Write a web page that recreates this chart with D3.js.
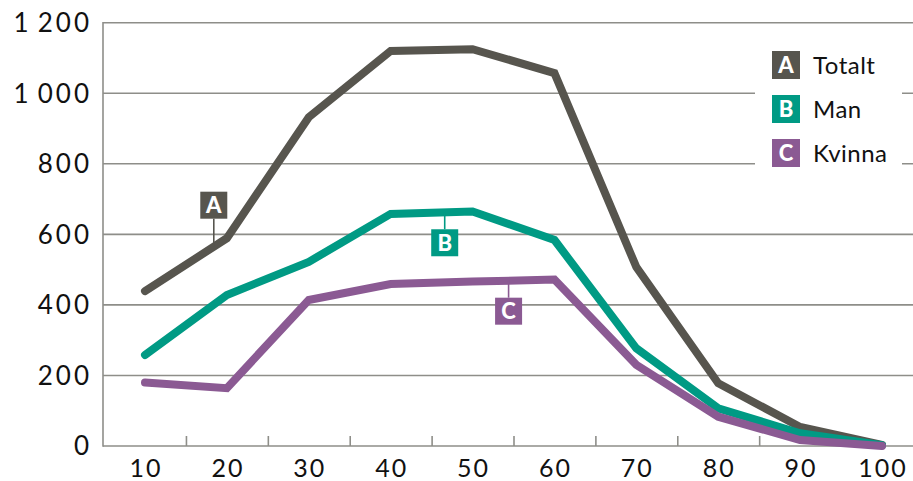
<!DOCTYPE html>
<html>
<head>
<meta charset="utf-8">
<script src="https://cdn.jsdelivr.net/npm/d3@7/dist/d3.min.js"></script>
<style>
  html, body { margin: 0; padding: 0; background: #fff; }
  svg { display: block; }
  text { font-family: Lato, "Open Sans", sans-serif; fill: #111; }
</style>
</head>
<body>
<svg id="chart" width="913" height="481"></svg>
<script>
// Age groups along the x axis
const ages = [10, 20, 30, 40, 50, 60, 70, 80, 90, 100];

// Series values per age group
const totalt = [439, 589, 932, 1120, 1125, 1057, 507, 178, 54, 3];
const man    = [258, 428, 522, 658, 665, 584, 277, 107, 36, 2];
const kvinna = [180, 164, 414, 459, 466, 472, 230, 83, 17, 0];

// Y axis ticks and their printed labels
const yTicks = [0, 200, 400, 600, 800, 1000, 1200];
const yTickLabels = ["0", "200", "400", "600", "800", "1\u2009000", "1\u2009200"];

// Series names, legend letters and colours
const seriesNames = ["Totalt", "Man", "Kvinna"];
const seriesLetters = ["A", "B", "C"];
const seriesColors = ["#57554e", "#009a84", "#8b5a93"];

// Where each inline letter tag sits (x in age units) and whether it is above or below its line
const tagAge = [18.4, 46.6, 54.4];
const tagSide = ["above", "below", "below"];

(function draw() {
  const svg = d3.select("#chart");
  const W = 913;
  const plotLeft = 103, plotTop = 22.7, plotBottom = 446;

  const x = d3.scaleLinear().domain([10, 100]).range([145, 882]);
  const y = d3.scaleLinear().domain([0, 1200]).range([plotBottom, plotTop]);

  const gridColor = "#8e8e89";
  const tickSpacing = 3;

  // Horizontal gridlines
  svg.append("g")
    .selectAll("line")
    .data(yTicks.filter(d => d > 0))
    .join("line")
    .attr("x1", plotLeft).attr("x2", W)
    .attr("y1", d => y(d)).attr("y2", d => y(d))
    .attr("stroke", gridColor).attr("stroke-width", 1.6);

  // Y axis labels
  svg.append("g")
    .selectAll("text")
    .data(yTicks)
    .join("text")
    .attr("x", 89 + tickSpacing)
    .attr("y", d => y(d))
    .attr("dy", "0.36em")
    .attr("text-anchor", "end")
    .attr("font-size", 26)
    .attr("letter-spacing", tickSpacing)
    .text((d, i) => yTickLabels[i]);

  // Left axis line
  svg.append("line")
    .attr("x1", plotLeft).attr("x2", plotLeft)
    .attr("y1", plotTop - 0.8).attr("y2", plotBottom + 0.8)
    .attr("stroke", gridColor).attr("stroke-width", 1.6);

  // Bottom axis with tick marks between age groups
  const xAxis = d3.axisBottom(x)
    .tickValues(ages.slice(0, -2).map(a => a + 5))
    .tickSize(-10)
    .tickFormat("");
  const gx = svg.append("g")
    .attr("transform", `translate(0,${plotBottom})`)
    .call(xAxis);
  gx.select(".domain").remove();
  gx.selectAll(".tick line").attr("stroke", gridColor).attr("stroke-width", 1.6);
  gx.append("line")
    .attr("x1", plotLeft).attr("x2", W)
    .attr("stroke", gridColor).attr("stroke-width", 1.6);

  // X axis labels
  svg.append("g")
    .selectAll("text")
    .data(ages)
    .join("text")
    .attr("x", d => x(d) + 1)
    .attr("y", 468)
    .attr("dy", "0.34em")
    .attr("text-anchor", "middle")
    .attr("font-size", 25)
    .attr("letter-spacing", 2)
    .text(d => d);

  // Legend background masks the gridlines behind it
  svg.append("rect")
    .attr("x", 755).attr("y", 36).attr("width", 147).attr("height", 140)
    .attr("fill", "#fff");

  // Lines
  const series = [totalt, man, kvinna];
  const line = d3.line().x((d, i) => x(ages[i])).y(d => y(d));
  series.forEach((vals, k) => {
    svg.append("path")
      .datum(vals)
      .attr("d", line)
      .attr("fill", "none")
      .attr("stroke", seriesColors[k])
      .attr("stroke-width", 8)
      .attr("stroke-linecap", "round")
      .attr("stroke-linejoin", "miter");
  });

  // Inline letter tags with leader lines
  const box = 27;
  series.forEach((vals, k) => {
    const a = tagAge[k];
    const lineVal = d3.scaleLinear().domain(ages).range(vals)(a);
    const tx = x(a);
    const ly = y(lineVal);
    const g = svg.append("g");
    let by, l1, l2;
    if (tagSide[k] === "above") {
      by = ly - 28 - box;
      l1 = by + box; l2 = ly;
    } else {
      by = ly + 17;
      l1 = ly; l2 = by;
    }
    g.append("line")
      .attr("x1", tx).attr("x2", tx).attr("y1", l1).attr("y2", l2)
      .attr("stroke", seriesColors[k]).attr("stroke-width", 1.6);
    g.append("rect")
      .attr("x", tx - box / 2).attr("y", by).attr("width", box).attr("height", box)
      .attr("fill", seriesColors[k]);
    g.append("text")
      .attr("x", tx).attr("y", by + box / 2)
      .attr("dy", "0.36em")
      .attr("text-anchor", "middle")
      .attr("font-size", 22).attr("font-weight", 900)
      .style("fill", "#fff")
      .text(seriesLetters[k]);
  });

  // Legend
  const legend = svg.append("g");
  seriesNames.forEach((name, k) => {
    const cy = 65 + k * 44;
    legend.append("rect")
      .attr("x", 772).attr("y", cy - 14).attr("width", 28).attr("height", 28)
      .attr("fill", seriesColors[k]);
    legend.append("text")
      .attr("x", 786).attr("y", cy)
      .attr("dy", "0.36em")
      .attr("text-anchor", "middle")
      .attr("font-size", 22).attr("font-weight", 900)
      .style("fill", "#fff")
      .text(seriesLetters[k]);
    legend.append("text")
      .attr("x", 813).attr("y", cy)
      .attr("dy", "0.36em")
      .attr("font-size", 24)
      .attr("letter-spacing", 0.5)
      .text(name);
  });
})();
</script>
</body>
</html>
